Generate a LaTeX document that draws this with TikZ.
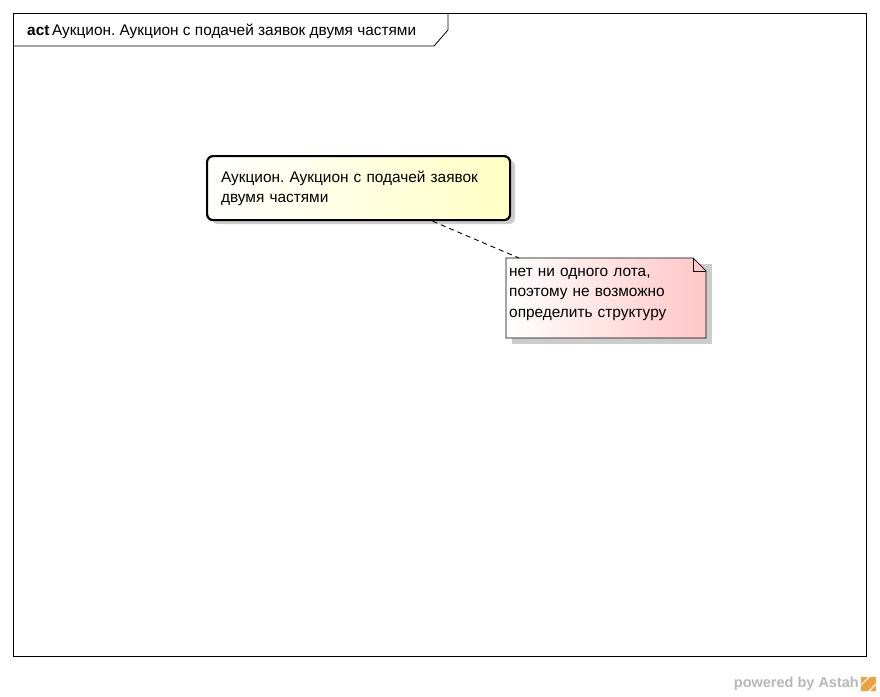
\documentclass[tikz,border=0pt]{standalone}
\usepackage{fontspec}
\setmainfont{Liberation Sans}
\frenchspacing
\definecolor{actyellow}{HTML}{FFFFC4}
\definecolor{notepink}{HTML}{FFC6C6}
\definecolor{shadowgray}{HTML}{CCCCCC}
\definecolor{astahgray}{HTML}{B8B8B8}
\definecolor{astahorange}{HTML}{F0A040}
\tikzset{
  frameline/.style={draw=black, line width=0.8pt},
  actbox/.style={draw=black, line width=2.2pt, rounded corners=6pt,
    left color=white, right color=actyellow,
    minimum width=303pt, minimum height=64pt, text width=275pt,
    inner xsep=14pt, align=left, anchor=north west,
    font=\fontsize{15.4}{20}\selectfont},
  notetext/.style={anchor=north west, text width=194pt, inner xsep=3pt, inner ysep=10pt,
    align=left, font=\fontsize{15.4}{20.5}\selectfont},
  notefill/.style={draw=black, line width=0.7pt, left color=white, right color=notepink},
  connector/.style={draw=black, line width=0.9pt, dash pattern=on 5pt off 4pt}
}
\begin{document}
\begin{tikzpicture}[x=1pt,y=-1pt]
\useasboundingbox (0,0) rectangle (880,696);
\fill[white] (0,0) rectangle (880,696);
% frame
\draw[frameline] (13,13) rectangle (866,656);
\draw[frameline] (13,46) -- (434,46) -- (448,30) -- (448,13);
\node[anchor=west, inner sep=0pt, font=\fontsize{15.4}{17}\selectfont] (title) at (27,31) {\textbf{act}\,Аукцион. Аукцион с подачей заявок двумя частями};
% action shadow
\fill[shadowgray, rounded corners=6pt] (212,160) rectangle (515,224);
\node[actbox] (act) at (206,155) {Аукцион. Аукцион с подачей заявок двумя частями};
% note
\coordinate (nw) at (506,258);
\fill[shadowgray] (512,264) -- (712,264) -- (712,344) -- (512,344) -- cycle;
\path[notefill] (nw) -- (693,258) -- (706,271) -- (706,338) -- (506,338) -- cycle;
\draw[line width=0.7pt] (693,258) -- (693,271) -- (706,271);
\node[notetext] (note) at (nw) {нет ни одного лота,\\поэтому не возможно\\определить структуру};
% connector
\draw[connector] ([xshift=74pt]act.south) -- ([xshift=13pt]note.north west);
% powered by
\node[anchor=east, inner sep=0pt, text=astahgray, font=\fontsize{14.5}{16}\selectfont\bfseries] (pow) at (859,684) {powered by Astah};
\fill[astahorange] (861,677) rectangle (876,691);
\fill[white!80!astahorange] (861,684) -- (868,677) -- (870,677) -- (861,686) -- cycle;
\fill[white!80!astahorange] (868,691) -- (876,683) -- (876,685) -- (870,691) -- cycle;
\end{tikzpicture}
\end{document}
